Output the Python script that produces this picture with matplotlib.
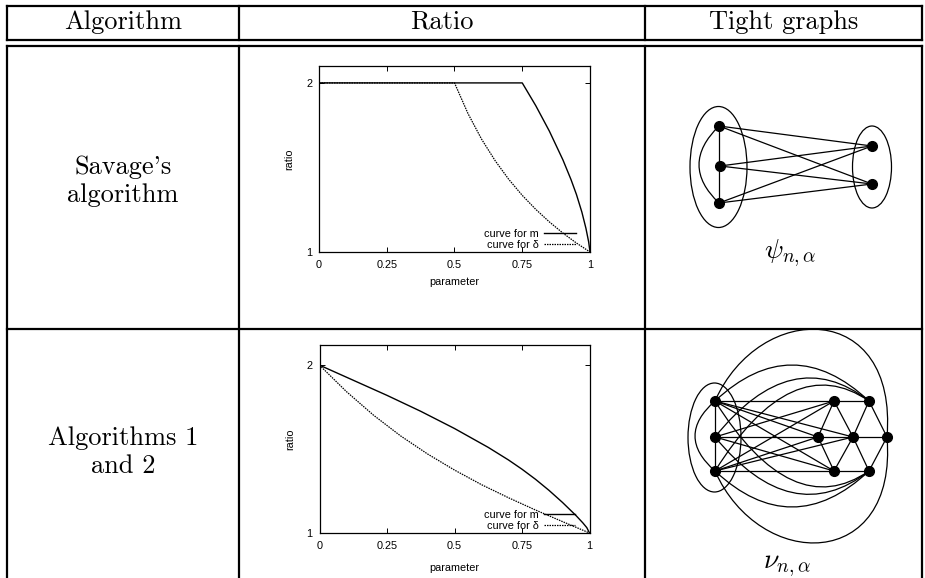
import matplotlib
matplotlib.use('Agg')
import matplotlib.pyplot as plt
from matplotlib.patches import Ellipse, PathPatch
from matplotlib.path import Path

plt.rcParams['mathtext.fontset'] = 'cm'

# ---------------- data ----------------
headers = ["Algorithm", "Ratio", "Tight graphs"]
row_labels = ["Savage's\nalgorithm", "Algorithms 1\nand 2"]
graph_labels = [r"$\psi_{n,\alpha}$", r"$\nu_{n,\alpha}$"]
xticks = [0, 0.25, 0.5, 0.75, 1]
xtick_labels = ["0", "0.25", "0.5", "0.75", "1"]
yticks = [1, 2]
ytick_labels = ["1", "2"]
legend_labels = ["curve for m", "curve for \u03b4"]

# Savage's algorithm
sav_m_x = [0.0, 0.75, 0.8, 0.85, 0.9, 0.93, 0.95, 0.97, 0.985, 0.995, 1.0]
sav_m_y = [2.0, 2.0, 1.865, 1.715, 1.545, 1.428, 1.34, 1.236, 1.14, 1.06, 1.0]
sav_d_x = [0.0, 0.5, 0.55, 0.6, 0.65, 0.7, 0.75, 0.8, 0.85, 0.9, 0.95, 1.0]
sav_d_y = [2.0, 2.0, 1.818, 1.667, 1.54, 1.43, 1.335, 1.252, 1.178, 1.112, 1.053, 1.0]

# Algorithms 1 and 2
alg_m_x = [0.0, 0.125, 0.25, 0.375, 0.5, 0.625, 0.7, 0.75, 0.8, 0.85, 0.9, 0.95,
           0.975, 0.99, 1.0]
alg_m_y = [2.0, 1.91, 1.82, 1.725, 1.6225, 1.51, 1.435, 1.38, 1.32, 1.254, 1.182, 1.104,
           1.061, 1.032, 1.0]
alg_d_x = [0.0, 0.1, 0.2, 0.3, 0.4, 0.5, 0.6, 0.7, 0.8, 0.9, 1.0]
alg_d_y = [2.0, 1.842, 1.702, 1.579, 1.471, 1.375, 1.288, 1.21, 1.137, 1.068, 1.0]

# graph psi: node positions (left part / right part)
psi_left_x = [719, 720, 719]
psi_left_y = [126, 166, 203]
psi_right_x = [872, 872]
psi_right_y = [146, 184]

# graph nu: node positions
nu_left_x = [715, 715, 715]
nu_left_y = [401, 437, 471]
nu_mid_x = [834, 818, 834]
nu_mid_y = [401, 437, 471]
nu_right_x = [869, 853, 869]
nu_right_y = [401, 437, 471]
nu_far = (887, 437)

# ---------------- figure ----------------
W, H = 925, 578
fig = plt.figure(figsize=(W / 100, H / 100), dpi=100)
ov = fig.add_axes([0, 0, 1, 1])
ov.set_xlim(0, W)
ov.set_ylim(H, 0)
ov.axis('off')

tlw = 1.6
k = 'black'
# table lines
xl, xr = 7, 922
c1, c2 = 239, 645
yt, yh1, yh2, yr = 6, 40, 46, 329
for y in (yt, yh1, yh2, yr):
    ov.plot([xl, xr], [y, y], color=k, lw=tlw, solid_capstyle='projecting')
for x in (xl, c1, c2, xr):
    ov.plot([x, x], [yt, yh1], color=k, lw=tlw)
    ov.plot([x, x], [yh2, H + 5], color=k, lw=tlw)

cm = 'cmr10'
hfs = 19
centers = [(xl + c1) / 2, (c1 + c2) / 2, (c2 + xr) / 2]
for cx, t in zip(centers, headers):
    ov.text(cx, 22, t, ha='center', va='center', fontsize=hfs, family=cm)
ov.text(centers[0], 181, row_labels[0], ha='center', va='center', fontsize=hfs,
        family=cm, linespacing=1.25)
ov.text(centers[0], 452, row_labels[1], ha='center', va='center', fontsize=hfs,
        family=cm, linespacing=1.25)
ov.text(790, 253, graph_labels[0], ha='center', va='center', fontsize=20)
ov.text(787, 565, graph_labels[1], ha='center', va='center', fontsize=20)

glw = 0.9


def seg(p, q):
    ov.plot([p[0], q[0]], [p[1], q[1]], color=k, lw=glw, zorder=2)


def quad(p, c, q):
    path = Path([p, c, q], [Path.MOVETO, Path.CURVE3, Path.CURVE3])
    ov.add_patch(PathPatch(path, fc='none', ec=k, lw=glw, zorder=2))


def cubic(p, c1_, c2_, q):
    path = Path([p, c1_, c2_, q], [Path.MOVETO, Path.CURVE4, Path.CURVE4, Path.CURVE4])
    ov.add_patch(PathPatch(path, fc='none', ec=k, lw=glw, zorder=2))


def nodes(xs, ys):
    ov.plot(xs, ys, 'o', color=k, ms=7, zorder=3)


# ---- graph psi ----
PL = list(zip(psi_left_x, psi_left_y))
PR = list(zip(psi_right_x, psi_right_y))
ov.add_patch(Ellipse((718.5, 167), 57, 121, fc='none', ec=k, lw=glw))
ov.add_patch(Ellipse((872, 167), 39, 82, fc='none', ec=k, lw=glw))
seg(PL[0], PL[2])
quad(PL[0], (679, 165), PL[2])
for p in PL:
    for q in PR:
        seg(p, q)
nodes(psi_left_x + psi_right_x, psi_left_y + psi_right_y)

# ---- graph nu ----
L = list(zip(nu_left_x, nu_left_y))
M = list(zip(nu_mid_x, nu_mid_y))
R = list(zip(nu_right_x, nu_right_y))
F = nu_far
ov.add_patch(Ellipse((714.5, 437.5), 53, 109, fc='none', ec=k, lw=glw))
seg(L[0], L[2])
quad(L[0], (675, 436), L[2])
# rows
seg(L[0], R[0])
seg(L[1], F)
seg(L[2], R[2])
# lattice
for a, b in [(M[0], M[1]), (M[0], R[1]), (R[0], R[1]), (R[0], F),
             (M[1], M[2]), (R[1], M[2]), (R[1], R[2]), (F, R[2])]:
    seg(a, b)
# straight edges left -> middle
for i, p in enumerate(L):
    for j, q in enumerate([M[0], M[1], M[2], R[1]]):
        if j == i or (i == 1 and j == 3):
            continue
        seg(p, q)
# curved edges to R1 and R3
up_ctrl = [329, 341, 348]
for i, p in enumerate(L):
    quad(p, (792, up_ctrl[i]), R[0])
    quad(p, (792, 872 - up_ctrl[2 - i]), R[2])
cubic(L[0], (760, 300), (898, 300), F)
cubic(L[2], (760, 572), (898, 572), F)
nodes(nu_left_x + nu_mid_x + nu_right_x + [F[0]],
      nu_left_y + nu_mid_y + nu_right_y + [F[1]])

# ---------------- ratio plots ----------------
sans = 'Liberation Sans'
pfs = 7.8


def ratio_plot(rect, ylim_top, mx, my, dx, dy, xlab_y):
    ax = fig.add_axes(rect)
    ax.plot(mx, my, color=k, lw=1.0, label=legend_labels[0])
    ax.plot(dx, dy, color=k, lw=0.9, ls=(0, (1.2, 0.8)), label=legend_labels[1])
    ax.set_xlim(0, 1)
    ax.set_ylim(1, ylim_top)
    ax.set_xticks(xticks)
    ax.set_xticklabels(xtick_labels)
    ax.set_yticks(yticks)
    ax.set_yticklabels(ytick_labels)
    ax.tick_params(direction='in', top=True, right=True, length=3.5, width=0.7,
                   labelsize=pfs)
    ax.tick_params(axis='x', pad=6)
    ax.tick_params(axis='y', pad=5)
    for lab in ax.get_xticklabels() + ax.get_yticklabels():
        lab.set_family(sans)
    for s in ax.spines.values():
        s.set_linewidth(0.9)
    ax.text(-0.11, 0.5, 'ratio', rotation=90, transform=ax.transAxes,
            ha='center', va='center', fontsize=pfs, family=sans)
    ax.text(0.5, xlab_y, 'parameter', transform=ax.transAxes,
            ha='center', va='center', fontsize=pfs, family=sans)
    ax.legend(loc='lower right', bbox_to_anchor=(0.948, 0.012), frameon=False,
              markerfirst=False, borderpad=0, borderaxespad=0,
              labelspacing=0.05, handlelength=2.9, handletextpad=0.5,
              prop={'family': sans, 'size': pfs})
    return ax


ratio_plot([319 / W, (H - 252) / H, 271 / W, 186 / H], 2.1,
           sav_m_x, sav_m_y, sav_d_x, sav_d_y, -0.16)
ratio_plot([319.5 / W, (H - 533) / H, 270 / W, 188 / H], 2.12,
           alg_m_x, alg_m_y, alg_d_x, alg_d_y, -0.186)

fig.savefig('out.png', dpi=100)
